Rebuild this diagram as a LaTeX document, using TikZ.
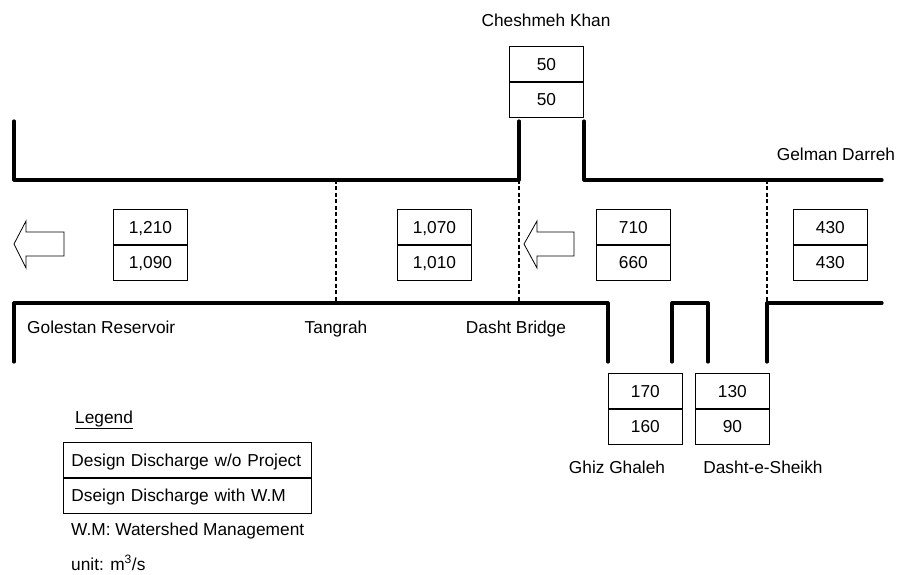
\documentclass[tikz,border=0pt]{standalone}
\usepackage{fontspec}
\setmainfont{Liberation Sans}
\begin{document}
\begin{tikzpicture}[x=1pt,y=-1pt,
  bank/.style={line width=3.2pt,line cap=round,line join=round},
  sect/.style={line width=1.4pt,dash pattern=on 4pt off 2.5pt},
  cell/.style={draw,line width=0.8pt,minimum width=74pt,minimum height=35pt,inner sep=0pt,
    text height=12.4pt,text depth=0pt,anchor=north west},
  lcell/.style={draw,line width=0.8pt,text width=232pt,inner xsep=8pt,inner ysep=0pt,minimum height=35pt,
    align=left,text height=12.4pt,text depth=0pt,anchor=north west},
  lbl/.style={anchor=base,inner sep=0pt},
  blockarrow/.style={draw,line width=0.8pt,fill=white,line join=miter},
  every node/.style={font=\fontsize{17.3}{20}\selectfont}]
\useasboundingbox (0,0) rectangle (898,575);
% banks
\draw[bank] (14,121) -- (14,180) -- (519,180) -- (519,121);
\draw[bank] (584,121) -- (584,180) -- (882,180);
\draw[bank] (14,362) -- (14,303) -- (608,303) -- (608,362);
\draw[bank] (672,362) -- (672,303) -- (708,303) -- (708,362);
\draw[bank] (767,362) -- (767,303) -- (882,303);
% section lines
\coordinate (t1) at (336,180); \coordinate (b1) at (336,303);
\coordinate (t2) at (519,180); \coordinate (b2) at (519,303);
\coordinate (t3) at (767,180); \coordinate (b3) at (767,303);
\draw[sect] (t1) -- (b1);
\draw[sect] (t2) -- (b2);
\draw[sect] (t3) -- (b3);
% flow arrows
\draw[blockarrow] (14,244) -- (26,221) -- (26,232) -- (64,232) -- (64,256) -- (26,256) -- (26,268) -- cycle;
\draw[blockarrow] (524,244) -- (537,221) -- (537,232) -- (574,232) -- (574,256) -- (537,256) -- (537,268) -- cycle;
% value boxes
\node[cell] (a1) at (113,209) {1,210};
\node[cell] (a2) at (a1.south west) {1,090};
\node[cell] (b1n) at (397,209) {1,070};
\node[cell] (b2n) at (b1n.south west) {1,010};
\node[cell] (c1) at (596,209) {710};
\node[cell] (c2) at (c1.south west) {660};
\node[cell] (d1) at (793,209) {430};
\node[cell] (d2) at (d1.south west) {430};
\node[cell] (e1) at (509,46) {50};
\node[cell] (e2) at (e1.south west) {50};
\node[cell] (f1) at (608,373) {170};
\node[cell] (f2) at (f1.south west) {160};
\node[cell] (g1) at (695,373) {130};
\node[cell] (g2) at (g1.south west) {90};
% labels
\node[lbl] (lch) at (546,27) {Cheshmeh Khan};
\node[lbl] (lgd) at (836,161) {Gelman Darreh};
\node[lbl,anchor=base west] (lgr) at (27,334) {Golestan Reservoir};
\node[lbl] (ltg) at (336,334) {Tangrah};
\node[lbl] (ldb) at (516,334) {Dasht Bridge};
\node[lbl] (lgg) at (617,473) {Ghiz Ghaleh};
\node[lbl] (lds) at (763,473) {Dasht-e-Sheikh};
% legend
\node[lbl,anchor=base west] (leg) at (75,423) {\underline{Legend}};
\node[lcell] (l1) at (63,442) {Design Discharge w/o Project};
\node[lcell] (l2) at (l1.south west) {Dseign Discharge with W.M};
\node[lbl,anchor=base west] (lwm) at (71,535) {W.M: Watershed Management};
\node[lbl,anchor=base west] (lun) at (71,570) {unit: m\textsuperscript{3}/s};
\end{tikzpicture}
\end{document}
